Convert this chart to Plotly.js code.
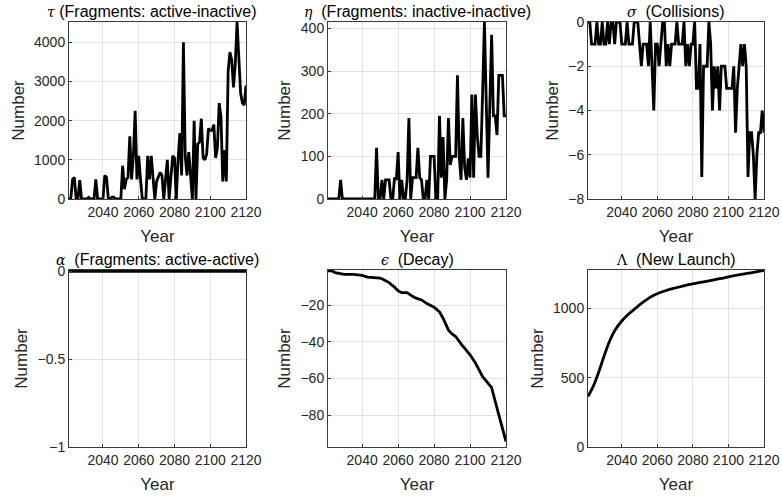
<!DOCTYPE html>
<html>
<head>
<meta charset="utf-8">
<script src="https://cdn.plot.ly/plotly-3.0.1.min.js"></script>
<style>
  html, body { margin: 0; padding: 0; background: #ffffff; }
  #chart { width: 782px; height: 497px; }
</style>
</head>
<body>
<div id="chart"></div>
<script>
// ---------- data ----------
const years = [
  2021,2022,2023,2024,2025,2026,2027,2028,2029,2030,
  2031,2032,2033,2034,2035,2036,2037,2038,2039,2040,
  2041,2042,2043,2044,2045,2046,2047,2048,2049,2050,
  2051,2052,2053,2054,2055,2056,2057,2058,2059,2060,
  2061,2062,2063,2064,2065,2066,2067,2068,2069,2070,
  2071,2072,2073,2074,2075,2076,2077,2078,2079,2080,
  2081,2082,2083,2084,2085,2086,2087,2088,2089,2090,
  2091,2092,2093,2094,2095,2096,2097,2098,2099,2100,
  2101,2102,2103,2104,2105,2106,2107,2108,2109,2110,
  2111,2112,2113,2114,2115,2116,2117,2118,2119,2120
];

// tau: fragments active-inactive
const tau = [
  0,0,500,550,0,0,480,0,0,0,
  0,40,0,0,0,500,0,0,0,0,
  600,550,0,0,50,50,0,0,0,0,
  850,250,500,550,1600,500,1100,2250,500,1100,
  500,0,0,0,1100,500,1100,500,0,450,
  550,680,600,0,500,1000,0,600,1100,1050,
  0,1000,1680,600,4000,1100,600,1200,500,0,
  2000,0,1400,1450,2050,1050,1000,1150,1800,1750,
  1750,1900,1050,1300,2450,2100,450,1250,450,3250,
  3750,3550,2850,3450,4520,3700,2700,2450,2400,2900
];

// eta: fragments inactive-inactive
const eta = [
  0,0,0,0,0,0,0,45,0,0,
  0,0,0,0,0,0,0,0,0,0,
  0,0,0,0,0,0,0,120,0,0,
  45,0,45,45,45,0,0,50,45,110,
  0,45,0,0,45,190,0,50,50,50,
  120,50,45,0,0,45,0,100,100,100,
  0,0,195,50,145,0,45,190,80,100,
  100,100,290,100,45,190,75,45,95,50,
  245,50,245,150,100,100,250,415,230,50,
  220,385,195,195,150,290,290,290,195,195
];

// sigma: collisions
const sigma = [
  0,0,-1,-1,-1,0,-1,-1,0,-1,
  -1,0,-1,0,0,-1,0,0,0,-1,
  -1,-1,0,-1,-1,-1,0,0,0,-1,
  -2,-1,-1,-1,-2,0,-2,-4,-1,-1,
  -2,-1,0,0,-2,-1,-2,-1,-1,-1,
  0,-1,-1,-1,0,-2,-1,-2,-1,-1,
  0,-3,-3,-1,-7,-2,-2,-2,0,-1,
  -4,-2,-3,-2,-4,-2,-2,-2,-3,-3,
  -3,-3,-2,-5,-3,-2,-1,-2,-1,-2,
  -7,-5,-5,-6,-8,-6,-5,-5,-4,-5
];

// alpha: fragments active-active (all zero)
const alpha = [
  0,0,0,0,0,0,0,0,0,0, 0,0,0,0,0,0,0,0,0,0,
  0,0,0,0,0,0,0,0,0,0, 0,0,0,0,0,0,0,0,0,0,
  0,0,0,0,0,0,0,0,0,0, 0,0,0,0,0,0,0,0,0,0,
  0,0,0,0,0,0,0,0,0,0, 0,0,0,0,0,0,0,0,0,0,
  0,0,0,0,0,0,0,0,0,0, 0,0,0,0,0,0,0,0,0,0
];

// epsilon: decay
const decayYears = [2021,2023,2025,2027,2030,2035,2040,2043,2045,2050,2052,2055,2058,2060,2062,2065,2068,2070,2073,2076,2080,2083,2085,2087,2088,2090,2092,2095,2098,2100,2103,2105,2107,2110,2112,2114,2116,2118,2120];
const decay = [-1,-1,-2,-2.5,-3,-3,-3.5,-4.5,-4.7,-5,-6,-7.5,-10,-12,-13,-13,-15,-16,-17,-19,-21,-23.5,-27,-31,-33.5,-35.6,-37,-41,-44.5,-47,-51.5,-55,-59,-62.5,-65,-72.5,-80,-87.5,-94.5];

// Lambda: new launch
const launchYears = [2021,2024,2027,2030,2033,2036,2040,2044,2048,2053,2058,2065,2070,2077,2086,2095,2104,2114,2120];
const launch = [365,440,540,655,760,840,910,962,1005,1055,1095,1130,1148,1170,1193,1215,1239,1261,1275];

const xTicks = [2040, 2060, 2080, 2100, 2120];

// ---------- styling ----------
const FONT = 'Liberation Sans, Arial, Helvetica, sans-serif';
const TXT = '#262626';
const LINE = {color: '#000000', width: 2.8};

function xax(domain, anchor) {
  return {
    domain: domain, anchor: anchor, range: [2021, 2120],
    tickvals: xTicks, ticktext: xTicks.map(String),
    showline: true, mirror: true, linecolor: '#3a3a3a', linewidth: 1,
    ticks: 'inside', ticklen: 3, tickcolor: '#3a3a3a',
    showgrid: true, gridcolor: '#e2e2e2', gridwidth: 1, zeroline: false,
    tickfont: {family: FONT, size: 14, color: TXT},
    title: {text: 'Year', font: {family: FONT, size: 17, color: TXT}, standoff: 11},
    fixedrange: true
  };
}
function yax(domain, anchor, range, tickvals) {
  return {
    domain: domain, anchor: anchor, range: range,
    tickvals: tickvals,
    showline: true, mirror: true, linecolor: '#3a3a3a', linewidth: 1,
    ticks: 'inside', ticklen: 3, tickcolor: '#3a3a3a',
    showgrid: true, gridcolor: '#e2e2e2', gridwidth: 1, zeroline: false,
    tickfont: {family: FONT, size: 14, color: TXT},
    title: {text: 'Number', font: {family: FONT, size: 17, color: TXT}, standoff: 5},
    fixedrange: true
  };
}

const W = 782, H = 497;
const colX = [[69/W, 246/W], [328/W, 506/W], [588/W, 764/W]];
const rowTop = [1 - 199/H, 1 - 22/H];
const rowBot = [1 - 447/H, 1 - 270/H];

const traces = [
  {x: years, y: tau, xaxis: 'x', yaxis: 'y', type: 'scatter', mode: 'lines', line: LINE},
  {x: years, y: eta, xaxis: 'x2', yaxis: 'y2', type: 'scatter', mode: 'lines', line: LINE},
  {x: years, y: sigma, xaxis: 'x3', yaxis: 'y3', type: 'scatter', mode: 'lines', line: LINE},
  {x: years, y: alpha, xaxis: 'x4', yaxis: 'y4', type: 'scatter', mode: 'lines', line: LINE},
  {x: decayYears, y: decay, xaxis: 'x5', yaxis: 'y5', type: 'scatter', mode: 'lines', line: LINE},
  {x: launchYears, y: launch, xaxis: 'x6', yaxis: 'y6', type: 'scatter', mode: 'lines', line: {color: '#000000', width: 2.8, shape: 'spline', smoothing: 0.8}}
];

const G = "font-family:'DejaVu Serif',serif;font-size:14px";
const titles = [
  {t: '<span style="' + G + '"><i>τ</i></span> (Fragments: active-inactive)', x: (colX[0][0]+colX[0][1])/2 - 6/W, y: rowTop[1]},
  {t: '<span style="' + G + '"><i>η</i></span>\u00a0 (Fragments: inactive-inactive)', x: (colX[1][0]+colX[1][1])/2, y: rowTop[1]},
  {t: '<span style="' + G + '"><i>σ</i></span>\u00a0 (Collisions)', x: (colX[2][0]+colX[2][1])/2, y: rowTop[1]},
  {t: '<span style="' + G + '"><i>α</i></span>\u00a0 (Fragments: active-active)', x: (colX[0][0]+colX[0][1])/2, y: rowBot[1]},
  {t: '<span style="' + G + '"><i>ϵ</i></span>\u00a0 (Decay)', x: (colX[1][0]+colX[1][1])/2, y: rowBot[1]},
  {t: '<span style="' + G + '">Λ</span>\u00a0 (New Launch)', x: (colX[2][0]+colX[2][1])/2, y: rowBot[1]}
];

const layout = {
  width: W, height: H,
  margin: {l: 0, r: 0, t: 0, b: 0},
  paper_bgcolor: '#ffffff', plot_bgcolor: '#ffffff',
  showlegend: false,
  font: {family: FONT, color: TXT},
  xaxis: xax(colX[0], 'y'),
  yaxis: yax(rowTop, 'x', [0, 4520], [0, 1000, 2000, 3000, 4000]),
  xaxis2: xax(colX[1], 'y2'),
  yaxis2: yax(rowTop, 'x2', [0, 415], [0, 100, 200, 300, 400]),
  xaxis3: xax(colX[2], 'y3'),
  yaxis3: yax(rowTop, 'x3', [-8, 0], [-8, -6, -4, -2, 0]),
  xaxis4: xax(colX[0], 'y4'),
  yaxis4: yax(rowBot, 'x4', [-1, 0.008], [-1, -0.5, 0]),
  xaxis5: xax(colX[1], 'y5'),
  yaxis5: yax(rowBot, 'x5', [-97.5, -0.6], [-80, -60, -40, -20]),
  xaxis6: xax(colX[2], 'y6'),
  yaxis6: yax(rowBot, 'x6', [0, 1278], [0, 500, 1000]),
  annotations: titles.map(o => ({
    text: o.t, x: o.x, y: o.y, xref: 'paper', yref: 'paper',
    xanchor: 'center', yanchor: 'bottom', showarrow: false, yshift: 0,
    font: {family: FONT, size: 16, color: '#000000'}
  }))
};

Plotly.newPlot('chart', traces, layout, {displayModeBar: false, staticPlot: true});
</script>
</body>
</html>
